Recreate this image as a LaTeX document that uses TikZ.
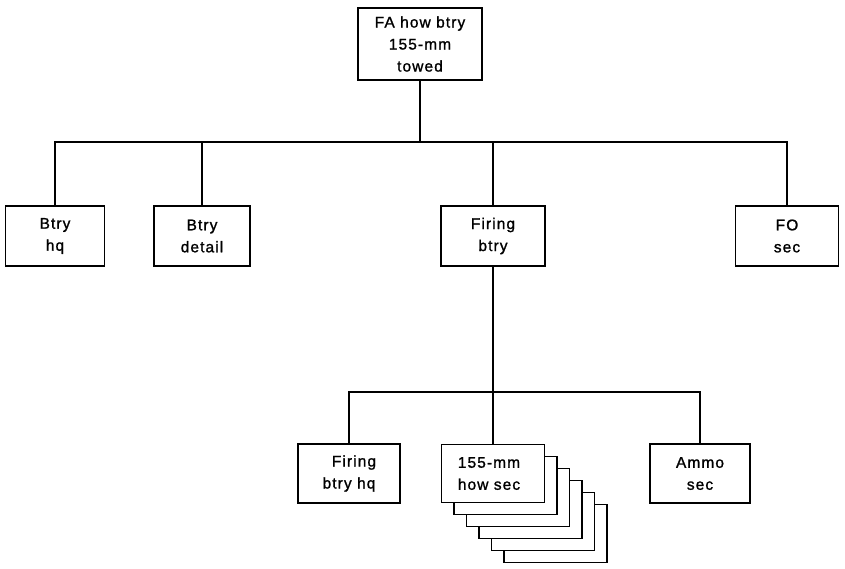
\documentclass[tikz,border=0pt]{standalone}
\usepackage{fontspec}
\setmainfont{Liberation Sans}[LetterSpace=7,FakeBold=1.2]
\begin{document}
\begin{tikzpicture}[x=1pt,y=-1pt,
  unit/.style={draw,line width=1.9pt,fill=white,align=center,inner sep=0pt,
    font=\fontsize{15.5}{22}\selectfont},
  wire/.style={line width=1.9pt}]
\useasboundingbox (0,0) rectangle (845,568);
% top
\node[unit,minimum width=124pt,minimum height=72pt] (top) at (420,44) {FA how btry\\155-mm\\towed};
% second level
\node[unit,minimum width=99pt,minimum height=60pt] (hq) at (55,236) {Btry\\hq};
\node[unit,minimum width=96pt,minimum height=60pt] (det) at (202,236) {Btry\\detail};
\node[unit,minimum width=104pt,minimum height=60pt] (fb) at (493,236) {Firing\\btry};
\node[unit,minimum width=103pt,minimum height=60pt] (fo) at (787,236) {FO\\sec};
\coordinate (bus1) at (420,142);
\draw[wire] (top.south) -- (bus1);
\draw[wire] (hq.north) |- (bus1) -| (fo.north);
\draw[wire] (det.north) -- (det.north |- bus1);
\draw[wire] (fb.north) -- (fb.north |- bus1);
% third level
\foreach \i in {5,4,3,2,1}{
  \node[unit,minimum width=103pt,minimum height=58pt] (back\i) at (493+12.5*\i,473.5+12*\i) {};
}
\node[unit,minimum width=103pt,minimum height=58pt,align=left] (how) at (493,473.5) {155-mm\\how sec\hspace*{8pt}};
\node[unit,minimum width=102pt,minimum height=59pt] (fhq) at (349,473.5) {\hspace*{10pt}Firing\\btry hq};
\node[unit,minimum width=100pt,minimum height=59pt] (am) at (700,473.5) {Ammo\\sec};
\coordinate (bus2) at (493,392);
\draw[wire] (fb.south) -- (how.north);
\draw[wire] (fhq.north) |- (bus2) -| (am.north);
\end{tikzpicture}
\end{document}
